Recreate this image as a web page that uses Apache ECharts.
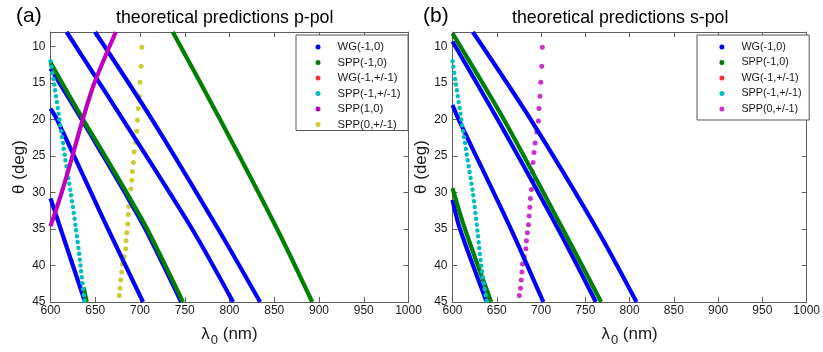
<!DOCTYPE html>
<html>
<head>
<meta charset="utf-8">
<script src="https://cdn.jsdelivr.net/npm/echarts@6/dist/echarts.min.js"></script>
<style>
  html, body { margin: 0; padding: 0; background: #fff; }
  #chart { width: 823px; height: 352px; }
</style>
</head>
<body>
<div id="chart"></div>
<script>
// points are [lambda0 (nm), theta (deg)]
const thetaTicks = [10, 15, 20, 25, 30, 35, 40, 45];

// (a) p-pol
const aWG = [
  [[649.8, 8], [713.5, 20], [787.3, 35], [834.2, 45]],
  [[618, 8], [681, 20], [758.2, 35], [804, 45]],
  [[600, 13], [635, 20], [659, 25], [683, 30], [706, 35], [746, 45]],
  [[600, 18.5], [607.3, 20], [664.3, 35], [703.4, 45]],
  [[600, 30.8], [638.6, 45]]
];
const aSPP = [
  [[736.6, 8], [789.5, 20], [853.2, 35], [892.4, 45]],
  [[600, 12.2], [636.5, 20], [661, 25], [685, 30], [708, 35], [748, 45]],
  [[637, 43], [640.5, 45]]
];
const aSPPpm = [[600, 12], [604, 15], [610, 20], [616, 25], [622.5, 30], [628.5, 35], [633.5, 40], [638, 45]];
const aSPP10 = [[600, 34.6], [612.5, 30], [624.5, 25], [636, 20], [649, 15], [673, 8]];
const aSPP0pm = [
  [702, 10.1], [701.2, 12.7], [700, 14.9], [699.3, 16.8], [698.1, 18.5], [697, 20.1], [696.3, 21.6],
  [695.2, 23.1], [693.3, 24.4], [692.6, 25.9], [691.5, 27.1], [690.8, 28.3], [689.7, 29.5], [688.1, 30.8],
  [687.5, 31.9], [687, 33.0], [686.3, 34.3], [685.2, 35.5], [684.4, 36.6], [684.1, 37.7], [682.2, 38.8],
  [680.3, 39.8], [679.6, 40.9], [678.5, 42.0], [677.7, 43.1], [676.9, 44.1]
];

// (b) s-pol
const bWG = [
  [[623, 8], [688.4, 20], [763, 35], [807.8, 45]],
  [[600, 9.3], [651, 20], [719.3, 35], [761.9, 45]],
  [[600, 18], [607, 20], [666, 35], [702.6, 45]],
  [[600, 31], [608.2, 34.9], [638.7, 45]]
];
const bSPP = [
  [[600, 8.2], [658, 20], [724.6, 35], [767.9, 45]],
  [[600, 29.4], [613.8, 34.9], [643.7, 45]]
];
const bSPPpm = [[600, 12], [603.7, 15], [610, 20], [616.4, 25], [623, 30], [628, 35], [632.5, 40], [638.7, 45]];
const bSPP0pm = [
  [701.4, 10.1], [700.8, 12.7], [699.7, 14.9], [698.9, 16.8], [697.7, 18.5], [697, 20.2], [695.2, 21.7],
  [693.3, 23.2], [692.1, 24.5], [691, 25.9], [690.2, 27.1], [690.2, 28.3], [689.1, 29.6], [688, 30.8],
  [687.3, 32.0], [686.5, 33.2], [685.8, 34.4], [684.5, 35.5], [683.5, 36.6], [682.9, 37.7], [681, 38.8],
  [679.1, 39.8], [678.4, 40.9], [677.6, 42.0], [676.8, 43.1], [675.4, 44.1]
];

const BLUE = '#0000ff', GREEN = '#008000', RED = '#ff0000';
const CYAN = '#00bfbf', MAGENTA = '#bf00bf', YELLOW = '#bfbf00';
const AXIS = '#5e5e5e';
const FONT = 'Liberation Sans, Arial, sans-serif';

const chart = echarts.init(document.getElementById('chart'), null, { renderer: 'canvas' });

function solid(name, data, color, g) {
  return {
    name, type: 'line', data, xAxisIndex: g * 2, yAxisIndex: g * 2,
    symbol: 'none', silent: true, color, smooth: 0.3,
    lineStyle: { width: 4.2, color }
  };
}
function dotted(name, data, color, g) {
  return {
    name, type: 'line', data, xAxisIndex: g * 2, yAxisIndex: g * 2,
    symbol: 'none', silent: true, color, smooth: 0.3,
    lineStyle: { width: 4.4, color, type: [0.1, 5.8], cap: 'round' }
  };
}
function dots(name, data, color, g) {
  return {
    name, type: 'scatter', data, xAxisIndex: g * 2, yAxisIndex: g * 2,
    symbolSize: 5, silent: true, color, itemStyle: { color }
  };
}
function empty(name, color, g) {
  return { name, type: 'scatter', data: [], xAxisIndex: g * 2, yAxisIndex: g * 2, color, itemStyle: { color } };
}

function xAxes(g) {
  const base = {
    type: 'value', gridIndex: g, min: 600, max: 1000, interval: 50,
    axisLine: { lineStyle: { color: AXIS, width: 1 } },
    axisTick: { inside: true, length: 5, lineStyle: { color: AXIS } },
    splitLine: { show: false }
  };
  return [
    Object.assign({}, base, {
      position: 'bottom',
      axisLabel: { fontSize: 12, color: '#1a1a1a', margin: 3, fontFamily: FONT, formatter: v => String(v) },
      name: '{l|λ}{s|0}{l| (nm)}',
      nameLocation: 'middle', nameGap: 20,
      nameTextStyle: {
        rich: {
          l: { fontSize: 17, color: '#1a1a1a', fontFamily: FONT },
          s: { fontSize: 13, color: '#1a1a1a', fontFamily: FONT, padding: [12, 0, 0, 1] }
        }
      }
    }),
    Object.assign({}, base, { position: 'top', axisLabel: { show: false } })
  ];
}
function yAxes(g) {
  const base = {
    type: 'value', gridIndex: g, min: 8, max: 45, inverse: true,
    axisLine: { lineStyle: { color: AXIS, width: 1 } },
    axisTick: { inside: true, length: 5, customValues: thetaTicks, lineStyle: { color: AXIS } },
    splitLine: { show: false }
  };
  return [
    Object.assign({}, base, {
      position: 'left',
      axisLabel: { fontSize: 12, color: '#1a1a1a', margin: 5, fontFamily: FONT, customValues: thetaTicks },
      name: 'θ (deg)', nameLocation: 'middle', nameGap: 22, nameRotate: 90,
      nameTextStyle: { fontSize: 17, color: '#1a1a1a', fontFamily: FONT }
    }),
    Object.assign({}, base, { position: 'right', axisLabel: { show: false } })
  ];
}

function legend(left, data, pad, fontSize) {
  return {
    orient: 'vertical', left, top: 35,
    data, icon: 'circle', itemWidth: 29, itemHeight: 5, itemGap: 3.5,
    padding: pad,
    backgroundColor: '#fff', borderColor: '#555', borderWidth: 1, borderRadius: 0,
    selectedMode: false,
    itemStyle: { borderWidth: 0 },
    textStyle: { fontSize, color: '#1a1a1a', fontFamily: FONT, lineHeight: 12 }
  };
}

const series = [];
aWG.forEach(d => series.push(solid('WG(-1,0)', d, BLUE, 0)));
aSPP.forEach(d => series.push(solid('SPP(-1,0)', d, GREEN, 0)));
series.push(empty('WG(-1,+/-1)', RED, 0));
series.push(dotted('SPP(-1,+/-1)', aSPPpm, CYAN, 0));
series.push(solid('SPP(1,0)', aSPP10, MAGENTA, 0));
series.push(dots('SPP(0,+/-1)', aSPP0pm, YELLOW, 0));

bWG.forEach(d => series.push(solid('WG(-1,0)', d, BLUE, 1)));
bSPP.forEach(d => series.push(solid('SPP(-1,0)', d, GREEN, 1)));
series.push(empty('WG(-1,+/-1)', RED, 1));
series.push(dotted('SPP(-1,+/-1)', bSPPpm, CYAN, 1));
series.push(dots('SPP(0,+/-1)', bSPP0pm, MAGENTA, 1));

const titleStyle = { fontSize: 17.8, fontWeight: 'normal', color: '#000', fontFamily: FONT };
const tagStyle = { fontSize: 21, fontWeight: 'normal', color: '#000', fontFamily: FONT };

chart.setOption({
  animation: false,
  backgroundColor: '#fff',
  textStyle: { fontFamily: FONT },
  title: [
    { text: '(a)', left: 16, top: 6, textStyle: tagStyle, padding: 0 },
    { text: 'theoretical predictions p-pol', left: 116, top: 9, textStyle: titleStyle, padding: 0 },
    { text: '(b)', left: 423, top: 6, textStyle: tagStyle, padding: 0 },
    { text: 'theoretical predictions s-pol', left: 512, top: 9, textStyle: titleStyle, padding: 0 }
  ],
  grid: [
    { left: 50.5, top: 32, width: 358, height: 275 },
    { left: 452.5, top: 32, width: 357.5, height: 275 }
  ],
  xAxis: xAxes(0).concat(xAxes(1)),
  yAxis: yAxes(0).concat(yAxes(1)),
  legend: [
    legend(296, [
      { name: 'WG(-1,0)', itemStyle: { color: BLUE } },
      { name: 'SPP(-1,0)', itemStyle: { color: GREEN } },
      { name: 'WG(-1,+/-1)', itemStyle: { color: RED } },
      { name: 'SPP(-1,+/-1)', itemStyle: { color: CYAN } },
      { name: 'SPP(1,0)', itemStyle: { color: MAGENTA } },
      { name: 'SPP(0,+/-1)', itemStyle: { color: YELLOW } }
    ], [6, 7.5, 0, 19.5], 11.3),
    legend(697, [
      { name: 'WG(-1,0)', itemStyle: { color: BLUE } },
      { name: 'SPP(-1,0)', itemStyle: { color: GREEN } },
      { name: 'WG(-1,+/-1)', itemStyle: { color: RED } },
      { name: 'SPP(-1,+/-1)', itemStyle: { color: CYAN } },
      { name: 'SPP(0,+/-1)', itemStyle: { color: MAGENTA } }
    ], [6, 7.5, 5, 22.4], 10.8)
  ],
  series
});
</script>
</body>
</html>
